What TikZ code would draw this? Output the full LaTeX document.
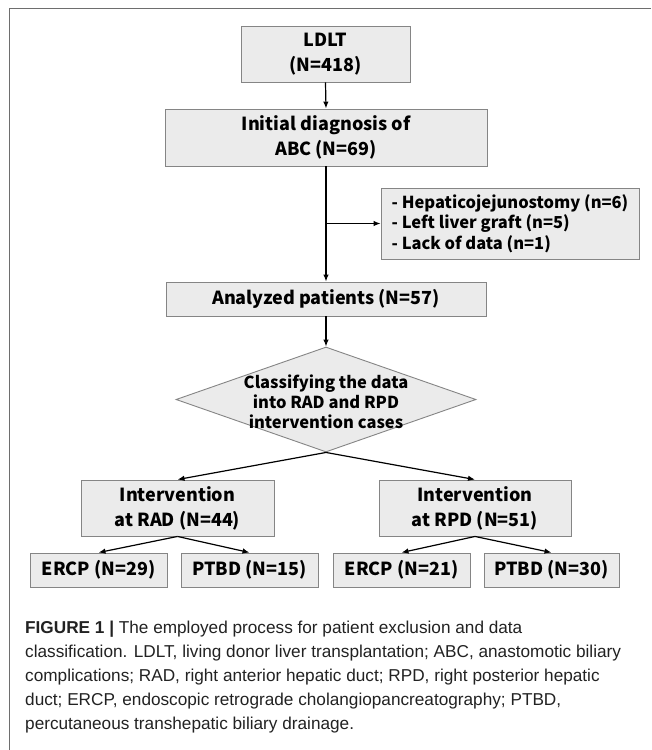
\documentclass[tikz,border=0pt]{standalone}
\usepackage{fontspec}
\setmainfont{Liberation Sans}
\newfontfamily\krfont{Noto Sans CJK KR}
\usetikzlibrary{shapes.geometric,arrows.meta}
\definecolor{boxfill}{HTML}{EBEBEB}
\definecolor{boxline}{HTML}{858585}
\definecolor{framecol}{HTML}{6E6E6E}
\definecolor{captext}{HTML}{222222}
\tikzset{
  box/.style={draw=boxline, fill=boxfill, line width=0.9pt, inner sep=0pt, align=center,
    font=\krfont\bfseries\fontsize{18}{25}\selectfont, text=black},
  leaf/.style={box, minimum height=34pt},
  conn/.style={-{Latex[length=7pt,width=5.5pt]}, line width=1.2pt, black}
}
\begin{document}
\begin{tikzpicture}[x=1pt,y=-1pt]
\useasboundingbox (0,0) rectangle (651,750);
\fill[white] (0,0) rectangle (651,750);
% frame
\draw[framecol, line width=1pt] (651,8.5) -- (9,8.5) -- (9,750);
% boxes
\node[box, minimum width=169pt, minimum height=56pt] (ldlt) at (325.5,54) {LDLT\\(N=418)};
\node[box, minimum width=322pt, minimum height=57pt] (init) at (326,137.5) {Initial diagnosis of\\ABC (N=69)};
\node[box, minimum width=258pt, minimum height=71pt, align=left,
  font=\krfont\bfseries\fontsize{16.5}{20.5}\selectfont] (excl) at (510,223.5)
  {- Hepaticojejunostomy (n=6)\\- Left liver graft (n=5)\\- Lack of data (n=1)};
\node[box, minimum width=320pt, minimum height=34pt] (anal) at (326,299) {Analyzed patients (N=57)};
\node[draw=boxline, fill=boxfill, line width=0.9pt, shape=diamond, inner sep=0pt,
  minimum width=300pt, minimum height=105pt] (dia) at (326,399.5) {};
\node[align=center, inner sep=0pt, font=\krfont\bfseries\fontsize{16.5}{20}\selectfont] (diatext) at (326,402)
  {Classifying the data\\into RAD and RPD\\intervention cases};
\node[box, minimum width=193pt, minimum height=56pt] (rad) at (177.5,508) {Intervention\\at RAD (N=44)};
\node[box, minimum width=192pt, minimum height=56pt] (rpd) at (475,508) {Intervention\\at RPD (N=51)};
\node[leaf, minimum width=137pt] (ercpa) at (98.5,570) {ERCP (N=29)};
\node[leaf, minimum width=137pt] (ptbda) at (249.5,570) {PTBD (N=15)};
\node[leaf, minimum width=137pt] (ercpb) at (401.5,570) {ERCP (N=21)};
\node[leaf, minimum width=135pt] (ptbdb) at (551.5,570) {PTBD (N=30)};
% connectors
\draw[conn] (ldlt.south) -- (init.north);
\draw[conn] (init.south) -- (anal.north);
\coordinate (br) at (init.south |- excl.west);
\draw[conn] (br) -- (excl.west);
\draw[conn] (anal.south) -- (dia.north);
\draw[conn] (dia.south) -- (rad.north);
\draw[conn] (dia.south) -- (rpd.north);
\draw[conn] (rad.south) -- (ercpa.north);
\draw[conn] (rad.south) -- (ptbda.north);
\draw[conn] (rpd.south) -- (ercpb.north);
\draw[conn] (rpd.south) -- (ptbdb.north);
% caption
\node[anchor=north west, align=left, inner sep=0pt, text=captext,
  font=\fontsize{17.2}{24}\selectfont] (cap) at (25,621)
  {\textbf{FIGURE 1 |} The employed process for patient exclusion and data\\
   classification. LDLT, living donor liver transplantation; ABC, anastomotic biliary\\
   complications; RAD, right anterior hepatic duct; RPD, right posterior hepatic\\
   duct; ERCP, endoscopic retrograde cholangiopancreatography; PTBD,\\
   percutaneous transhepatic biliary drainage.};
\end{tikzpicture}
\end{document}
